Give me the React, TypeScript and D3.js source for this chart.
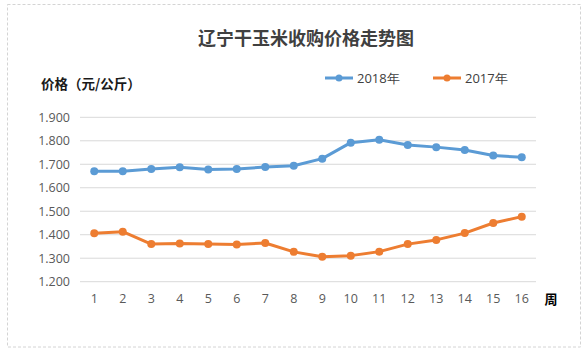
import React from "react";
import * as d3 from "d3";

const weeks = ["1","2","3","4","5","6","7","8","9","10","11","12","13","14","15","16"];
const series2018 = [1.670,1.670,1.680,1.687,1.678,1.680,1.688,1.694,1.724,1.792,1.804,1.782,1.773,1.761,1.737,1.730];
const series2017 = [1.406,1.413,1.360,1.363,1.360,1.358,1.365,1.327,1.306,1.311,1.328,1.360,1.378,1.407,1.450,1.477];
const yTicks = [1.2,1.3,1.4,1.5,1.6,1.7,1.8,1.9];
const seriesNames = ["2018年","2017年"];
const colors = ["#5b9bd5","#ed7d31"];

const W = 588, H = 356;
const left = 80, right = 536, top = 117.3, bottom = 281.7;

export default function App() {
  const x = d3.scaleBand<string>().domain(weeks).range([left, right]);
  const y = d3.scaleLinear().domain([1.2, 1.9]).range([bottom, top]);
  const cx = (w: string) => (x(w) as number) + x.bandwidth() / 2;
  const line = d3.line<number>().x((_, i) => cx(weeks[i])).y((d) => y(d));
  const all = [series2018, series2017];
  const numFont = "'Open Sans', 'Noto Sans', sans-serif";
  const cjkFont = "'Noto Sans CJK SC', sans-serif";
  const legendX = [325, 433];
  return (
    <svg width={W} height={H} style={{ position: "absolute", left: 0, top: 0, background: "#fff" }}>
      <rect x={7.5} y={4.5} width={573} height={342.5} fill="#fff" stroke="#d4d4d4" strokeDasharray="3,2" />
      <text x={306} y={37} textAnchor="middle" dominantBaseline="central" fontFamily={cjkFont} fontSize={18} fontWeight={700} fill="#404040">辽宁干玉米收购价格走势图</text>
      <text x={41} y={83} dominantBaseline="central" fontFamily={cjkFont} fontSize={13.5} fontWeight={700} fill="#1a1a1a">价格（元/公斤）</text>
      {seriesNames.map((n, i) => (
        <g key={n}>
          <line x1={legendX[i]} x2={legendX[i] + 28} y1={78} y2={78} stroke={colors[i]} strokeWidth={3} />
          <circle cx={legendX[i] + 14} cy={78} r={3.5} fill={colors[i]} />
          <text x={legendX[i] + 32} y={78} dominantBaseline="central" fontFamily={numFont} fontSize={13} fill="#404040">{n}</text>
        </g>
      ))}
      {yTicks.map((t) => (
        <g key={t}>
          <line x1={left} x2={right} y1={y(t)} y2={y(t)} stroke="#d9d9d9" strokeWidth={1} />
          <text x={70} y={y(t)} textAnchor="end" dominantBaseline="central" fontFamily={numFont} fontSize={12.5} fill="#595959">{t.toFixed(3)}</text>
        </g>
      ))}
      {weeks.map((w) => (
        <text key={w} x={cx(w)} y={298} textAnchor="middle" dominantBaseline="central" fontFamily={numFont} fontSize={12.5} fill="#595959">{w}</text>
      ))}
      <text x={551} y={298} textAnchor="middle" dominantBaseline="central" fontFamily={cjkFont} fontSize={13} fontWeight={700} fill="#000">周</text>
      {all.map((s, i) => (
        <g key={i}>
          <path d={line(s) as string} fill="none" stroke={colors[i]} strokeWidth={3} strokeLinejoin="round" />
          {s.map((v, j) => (
            <circle key={j} cx={cx(weeks[j])} cy={y(v)} r={4} fill={colors[i]} />
          ))}
        </g>
      ))}
    </svg>
  );
}
